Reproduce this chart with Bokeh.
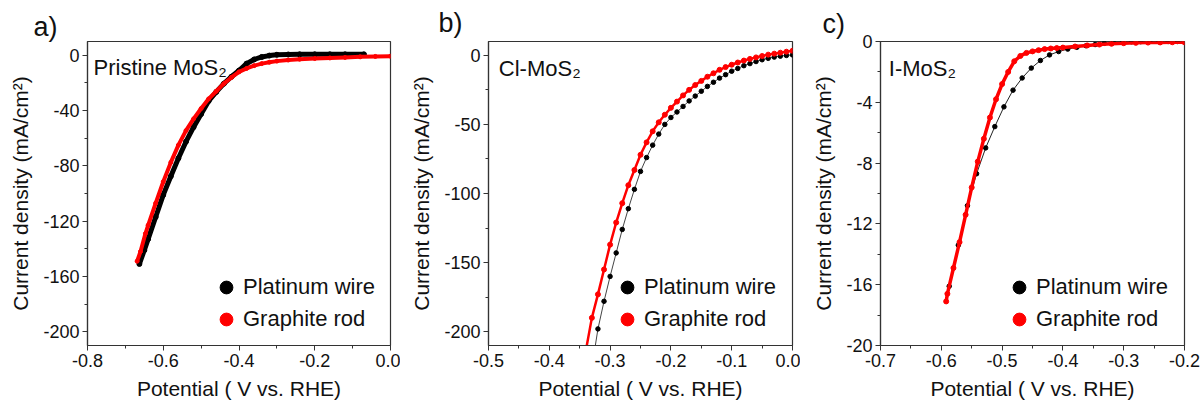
from bokeh.plotting import figure
from bokeh.layouts import row
from bokeh.models import Range1d, FixedTicker, Legend, LegendItem, Label, Title
from bokeh.embed import file_html
from bokeh.resources import INLINE

FONT = "Liberation Sans"
BLACK = "#000000"
RED = "#ff0000"
AXIS = "#333333"

# ---------------- data ----------------
series_names = ["Platinum wire", "Graphite rod"]
panel_letters = ["a)", "b)", "c)"]
panel_titles = ["Pristine MoS\u2082", "Cl-MoS\u2082", "I-MoS\u2082"]
x_title = "Potential ( V vs. RHE)"
y_title = "Current density (mA/cm\u00b2)"

# panel a : Pristine MoS2
a_pt_x = [-0.663, -0.65, -0.64, -0.62, -0.60, -0.58, -0.56, -0.54, -0.52, -0.50, -0.48, -0.46,
          -0.44, -0.42, -0.40, -0.38, -0.36, -0.34, -0.32, -0.30, -0.27, -0.24, -0.20, -0.16,
          -0.12, -0.07]
a_pt_y = [-151, -141, -133, -117, -101, -87.5, -74.5, -62.5, -52, -42.5, -33, -26.5,
          -20.5, -15.5, -11, -6, -3, -1.2, -0.2, 0.4, 0.6, 0.7, 0.7, 0.7,
          0.7, 0.7]
a_gr_x = [-0.669, -0.66, -0.647, -0.64, -0.62, -0.60, -0.58, -0.56, -0.54, -0.52, -0.50, -0.48,
          -0.46, -0.44, -0.42, -0.40, -0.38, -0.36, -0.34, -0.32, -0.30, -0.27, -0.24, -0.20,
          -0.16, -0.12, -0.08, -0.04, 0.0]
a_gr_y = [-149, -142, -129, -123, -107, -91.5, -77.5, -65, -54.5, -46, -38.5, -31.5,
          -26, -20.5, -16, -12, -9.5, -7.5, -6, -5, -4.2, -3.4, -2.8, -2.3,
          -1.9, -1.5, -1.1, -0.8, -0.6]

# panel b : Cl-MoS2
b_pt_x = [-0.325, -0.32, -0.31, -0.30, -0.29, -0.28, -0.27, -0.26, -0.25, -0.24, -0.23, -0.22,
          -0.21, -0.20, -0.19, -0.18, -0.17, -0.16, -0.15, -0.14, -0.13, -0.12, -0.11, -0.10,
          -0.09, -0.08, -0.07, -0.06, -0.05, -0.04, -0.03, -0.02, -0.01, 0.0]
b_pt_y = [-212, -198, -178, -160, -143, -126, -111, -97, -84, -74, -65, -57,
          -50, -45, -41, -37, -33, -29.5, -26, -22.5, -19.5, -16.5, -14, -11.5,
          -9.5, -7.5, -6, -4.5, -3.2, -2.2, -1.3, -0.6, -0.1, 0.3]
b_gr_x = [-0.34, -0.33, -0.32, -0.31, -0.30, -0.29, -0.28, -0.27, -0.26, -0.25, -0.24, -0.23,
          -0.22, -0.21, -0.20, -0.19, -0.18, -0.17, -0.16, -0.15, -0.14, -0.13, -0.12, -0.11,
          -0.10, -0.09, -0.08, -0.07, -0.06, -0.05, -0.04, -0.03, -0.02, -0.01, 0.0]
b_gr_y = [-214, -190, -173, -155, -137, -121, -107, -94, -83, -72, -63, -55,
          -48.5, -43, -38, -33.5, -29, -25, -21.5, -18.5, -15.5, -13, -10.5, -8.5,
          -6.8, -5.2, -3.8, -2.6, -1.5, -0.5, 0.5, 1.2, 1.9, 2.6, 3.3]

# panel c : I-MoS2
c_pt_x = [-0.587, -0.572, -0.557, -0.542, -0.527, -0.512, -0.497, -0.482, -0.467, -0.452, -0.437,
          -0.422, -0.407, -0.392, -0.377, -0.362, -0.347, -0.332, -0.317, -0.302, -0.287, -0.272,
          -0.257, -0.242, -0.227, -0.212]
c_pt_y = [-16.1, -13.4, -10.8, -8.7, -7.0, -5.6, -4.3, -3.2, -2.4, -1.75, -1.25,
          -0.88, -0.66, -0.5, -0.38, -0.28, -0.2, -0.12, -0.07, -0.04, -0.02, -0.01,
          0.0, 0.0, 0.0, 0.0]
c_gr_x = [-0.592, -0.59, -0.58, -0.57, -0.56, -0.55, -0.54, -0.53, -0.52, -0.51, -0.50, -0.49,
          -0.48, -0.47, -0.46, -0.45, -0.44, -0.43, -0.42, -0.41, -0.40, -0.38, -0.36, -0.34,
          -0.32, -0.30, -0.28, -0.26, -0.24, -0.22, -0.20]
c_gr_y = [-17.1, -16.6, -14.9, -13.2, -11.4, -9.6, -7.9, -6.4, -5.0, -3.8, -2.8, -2.0,
          -1.3, -0.95, -0.75, -0.65, -0.57, -0.5, -0.46, -0.43, -0.4, -0.33, -0.26, -0.2,
          -0.15, -0.11, -0.09, -0.07, -0.06, -0.05, -0.05]

# axes
a_xticks = [-0.8, -0.6, -0.4, -0.2, 0.0]
a_xlabels = ["-0.8", "-0.6", "-0.4", "-0.2", "0.0"]
a_xminor = [-0.7, -0.5, -0.3, -0.1]
a_yticks = [0, -40, -80, -120, -160, -200]
a_ylabels = ["0", "-40", "-80", "-120", "-160", "-200"]
a_yminor = [-20, -60, -100, -140, -180]

b_xticks = [-0.5, -0.4, -0.3, -0.2, -0.1, 0.0]
b_xlabels = ["-0.5", "-0.4", "-0.3", "-0.2", "-0.1", "0.0"]
b_xminor = [-0.45, -0.35, -0.25, -0.15, -0.05]
b_yticks = [0, -50, -100, -150, -200]
b_ylabels = ["0", "-50", "-100", "-150", "-200"]
b_yminor = [-25, -75, -125, -175]

c_xticks = [-0.7, -0.6, -0.5, -0.4, -0.3, -0.2]
c_xlabels = ["-0.7", "-0.6", "-0.5", "-0.4", "-0.3", "-0.2"]
c_xminor = [-0.65, -0.55, -0.45, -0.35, -0.25]
c_yticks = [0, -4, -8, -12, -16, -20]
c_ylabels = ["0", "-4", "-8", "-12", "-16", "-20"]
c_yminor = [-2, -6, -10, -14, -18]


def make_panel(width, bl, br, xr, yr, xt, xl, xm, yt, yl, ym, letter, loff, lstand):
    title = Title(text=letter, align="left", offset=loff, standoff=lstand,
                  text_font=FONT, text_font_size="27px", text_font_style="normal",
                  text_color="#111111")
    p = figure(width=width, height=407, x_range=Range1d(*xr), y_range=Range1d(*yr),
               output_backend="svg", toolbar_location=None, title=title,
               min_border_left=bl, min_border_right=br, min_border_top=41, min_border_bottom=62)
    p.grid.visible = False
    p.outline_line_color = AXIS
    p.outline_line_width = 1.2
    p.background_fill_color = "white"
    p.border_fill_color = "white"
    p.xaxis.ticker = FixedTicker(ticks=xt, minor_ticks=xm)
    p.yaxis.ticker = FixedTicker(ticks=yt, minor_ticks=ym)
    p.xaxis.major_label_overrides = {t: s for t, s in zip(xt, xl)}
    p.yaxis.major_label_overrides = {t: s for t, s in zip(yt, yl)}
    for ax in (p.xaxis[0], p.yaxis[0]):
        ax.axis_line_color = AXIS
        ax.axis_line_width = 1.2
        ax.major_tick_line_color = AXIS
        ax.minor_tick_line_color = AXIS
        ax.major_tick_in = 0
        ax.major_tick_out = 5
        ax.minor_tick_in = 0
        ax.minor_tick_out = 3
        ax.major_label_text_font = FONT
        ax.major_label_text_font_size = "18px"
        ax.major_label_text_color = "#111111"
        ax.axis_label_text_font = FONT
        ax.axis_label_text_font_size = "21px"
        ax.axis_label_text_font_style = "normal"
        ax.axis_label_text_color = "#111111"
    p.xaxis.major_label_standoff = 3
    p.xaxis.axis_label_standoff = 7
    p.yaxis.major_label_standoff = 3
    p.yaxis.axis_label_standoff = 8
    p.xaxis.axis_label = x_title
    p.yaxis.axis_label = y_title
    return p


def add_legend(p, r_pt, r_gr):
    leg = Legend(items=[LegendItem(label=series_names[0], renderers=[r_pt]),
                        LegendItem(label=series_names[1], renderers=[r_gr])],
                 location=(123, 10), padding=0, margin=0, spacing=0,
                 glyph_width=32, glyph_height=32, label_height=30, label_standoff=1,
                 label_text_font=FONT, label_text_font_size="22px",
                 label_text_color="#111111",
                 border_line_alpha=0, background_fill_alpha=0)
    p.add_layout(leg)


def add_title(p, title, tx, ty):
    p.add_layout(Label(x=tx, y=ty, text=title, text_font=FONT, text_font_size="22px",
                       text_baseline="alphabetic", text_align="left", text_color="#111111"))


# ---- panel a ----
pa = make_panel(400, 87, 10, (-0.8, 0.0), (-210, 10),
                a_xticks, a_xlabels, a_xminor, a_yticks, a_ylabels, a_yminor,
                panel_letters[0], -54, 0)
pa.line(a_pt_x, a_pt_y, line_color=BLACK, line_width=5)
ra_pt = pa.scatter(a_pt_x, a_pt_y, size=5, marker="circle", fill_color=BLACK, line_color=BLACK)
pa.line(a_gr_x, a_gr_y, line_color=RED, line_width=4)
ra_gr = pa.scatter(a_gr_x, a_gr_y, size=4, marker="circle", fill_color=RED, line_color=RED)
add_legend(pa, ra_pt, ra_gr)
add_title(pa, panel_titles[0], -0.784, -8.6)

# ---- panel b ----
pb = make_panel(400, 88, 8, (-0.5, 0.0), (-210, 10),
                b_xticks, b_xlabels, b_xminor, b_yticks, b_ylabels, b_yminor,
                panel_letters[1], -50, 7)
pb.line(b_pt_x, b_pt_y, line_color="#444444", line_width=1)
rb_pt = pb.scatter(b_pt_x, b_pt_y, size=4.5, marker="circle", fill_color=BLACK, line_color=BLACK)
pb.line(b_gr_x, b_gr_y, line_color=RED, line_width=2.5)
rb_gr = pb.scatter(b_gr_x, b_gr_y, size=5, marker="circle", fill_color=RED, line_color=RED)
add_legend(pb, rb_pt, rb_gr)
add_title(pb, panel_titles[1], -0.483, -9.8)

# ---- panel c ----
pc = make_panel(403, 80, 19, (-0.7, -0.2), (-20, 0),
                c_xticks, c_xlabels, c_xminor, c_yticks, c_ylabels, c_yminor,
                panel_letters[2], -58, 6)
pc.line(c_pt_x, c_pt_y, line_color="#222222", line_width=1)
rc_pt = pc.scatter(c_pt_x, c_pt_y, size=4.5, marker="circle", fill_color=BLACK, line_color=BLACK)
pc.line(c_gr_x, c_gr_y, line_color=RED, line_width=3.5)
rc_gr = pc.scatter(c_gr_x, c_gr_y, size=5, marker="circle", fill_color=RED, line_color=RED)
add_legend(pc, rc_pt, rc_gr)
add_title(pc, panel_titles[2], -0.6863, -1.8)

layout = row(pa, pb, pc)
open("out.html", "w").write(file_html(layout, INLINE))
